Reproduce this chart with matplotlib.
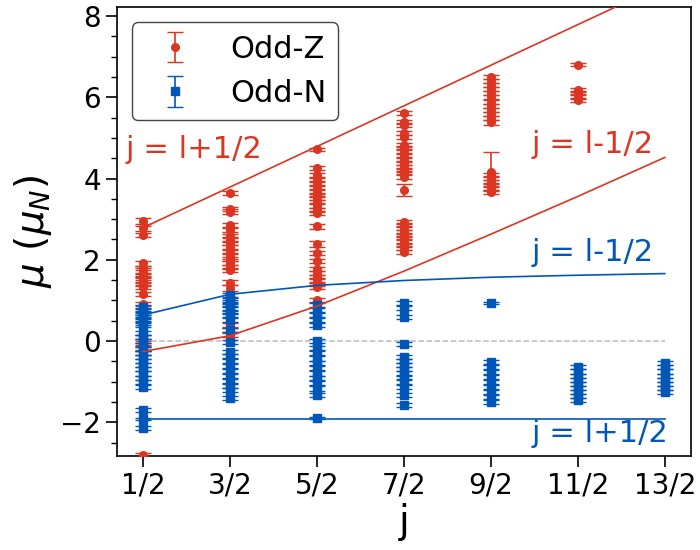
import matplotlib.pyplot as plt
from matplotlib.ticker import MultipleLocator

RED = '#dc3522'
BLUE = '#0057b7'

j_vals = [0.5, 1.5, 2.5, 3.5, 4.5, 5.5, 6.5]
j_labels = ['1/2', '3/2', '5/2', '7/2', '9/2', '11/2', '13/2']

# measured moments, one list per j
odd_z_mu = [
    [2.96, 2.78, 2.62, 1.91, 1.80, 1.72, 1.62, 1.55, 1.48, 1.40, 1.34, 1.15, 0.90,
     0.10, -0.05, -0.17, -0.30, -2.81],
    [3.65, 3.24, 3.18, 2.86, 2.73, 2.59, 2.49, 2.41, 2.31, 2.20, 2.09, 2.01, 1.91,
     1.82, 1.75, 1.44, 1.30, 0.39, 0.27, 0.15],
    [4.72, 4.25, 4.09, 3.97, 3.87, 3.79, 3.68, 3.60, 3.51, 3.43, 3.33, 3.23, 3.15,
     2.82, 2.39, 2.16, 1.98, 1.77, 1.68, 1.58, 1.49, 1.40, 1.34, 1.01],
    [5.61, 5.40, 5.32, 5.12, 5.03, 4.83, 4.75, 4.66, 4.58, 4.46, 4.38, 4.29, 4.21,
     4.13, 4.05, 3.72, 2.94, 2.86, 2.78, 2.69, 2.61, 2.53, 2.45, 2.36, 2.28, 2.20],
    [6.51, 6.41, 6.31, 6.20, 6.10, 6.00, 5.89, 5.79, 5.69, 5.59, 5.49, 5.38,
     4.17, 4.09, 4.01, 3.92, 3.84, 3.76, 3.68],
    [6.80, 6.18, 6.10, 6.02, 5.94],
    [],
]
odd_z_err = [
    [0.08, 0.06, 0.05, 0.06, 0.05, 0.08, 0.05, 0.05, 0.06, 0.05, 0.05, 0.05, 0.05,
     0.05, 0.05, 0.05, 0.05, 0.05],
    [0.05, 0.05, 0.06, 0.05, 0.05, 0.05, 0.06, 0.05, 0.05, 0.05, 0.08, 0.05, 0.05,
     0.05, 0.05, 0.05, 0.08, 0.05, 0.05, 0.05],
    [0.03, 0.05, 0.05, 0.05, 0.06, 0.05, 0.05, 0.05, 0.05, 0.05, 0.06, 0.05, 0.05,
     0.05, 0.08, 0.05, 0.05, 0.05, 0.05, 0.05, 0.05, 0.05, 0.05, 0.05],
    [0.05, 0.05, 0.05, 0.05, 0.05, 0.05, 0.05, 0.06, 0.05, 0.05, 0.05, 0.05, 0.05,
     0.05, 0.05, 0.14, 0.05, 0.05, 0.05, 0.05, 0.05, 0.05, 0.05, 0.05, 0.05, 0.05],
    [0.05, 0.05, 0.05, 0.05, 0.05, 0.05, 0.05, 0.05, 0.05, 0.05, 0.05, 0.05,
     0.48, 0.05, 0.05, 0.05, 0.05, 0.05, 0.05],
    [0.04, 0.05, 0.05, 0.05, 0.05],
    [],
]

odd_n_mu = [
    [0.84, 0.76, 0.70, 0.64, 0.58, 0.52, 0.45, 0.39, 0.20, 0.10, 0.00, -0.10, -0.20,
     -0.30, -0.40, -0.50, -0.60, -0.70, -0.80, -0.90, -1.00, -1.13, -1.70, -1.92, -2.14],
    [1.13, 1.02, 0.95, 0.88, 0.80, 0.72, 0.64, 0.52, 0.27, -0.02, -0.26, -0.38, -0.50,
     -0.62, -0.74, -0.86, -0.98, -1.10, -1.21, -1.40],
    [0.89, 0.76, 0.64, 0.52, 0.39, 0.01, -0.18, -0.30, -0.43, -0.55, -0.67, -0.80,
     -0.92, -1.04, -1.17, -1.33, -1.90],
    [0.93, 0.81, 0.60, -0.07, -0.39, -0.49, -0.59, -0.70, -0.80, -0.89, -1.00,
     -1.13, -1.33, -1.58],
    [0.94, -0.51, -0.63, -0.76, -0.88, -1.00, -1.13, -1.25, -1.37, -1.50],
    [-0.65, -0.75, -0.85, -0.95, -1.05, -1.15, -1.25, -1.35, -1.45],
    [-0.55, -0.65, -0.75, -0.85, -0.95, -1.05, -1.15, -1.25],
]
odd_n_err = [
    [0.05, 0.05, 0.05, 0.05, 0.05, 0.05, 0.05, 0.05, 0.05, 0.05, 0.05, 0.05, 0.05,
     0.05, 0.05, 0.05, 0.05, 0.05, 0.05, 0.05, 0.05, 0.05, 0.05, 0.02, 0.05],
    [0.05, 0.05, 0.05, 0.05, 0.05, 0.05, 0.05, 0.05, 0.05, 0.05, 0.05, 0.05, 0.05,
     0.05, 0.05, 0.05, 0.05, 0.05, 0.05, 0.05],
    [0.05, 0.05, 0.05, 0.05, 0.05, 0.05, 0.05, 0.05, 0.05, 0.05, 0.05, 0.05, 0.05,
     0.05, 0.05, 0.05, 0.02],
    [0.05, 0.05, 0.05, 0.05, 0.05, 0.05, 0.05, 0.05, 0.05, 0.05, 0.05, 0.05, 0.05,
     0.05],
    [0.03, 0.05, 0.05, 0.05, 0.05, 0.05, 0.05, 0.05, 0.05, 0.05],
    [0.05, 0.05, 0.05, 0.05, 0.05, 0.05, 0.05, 0.05, 0.05],
    [0.05, 0.05, 0.05, 0.05, 0.05, 0.05, 0.05, 0.05],
]

# Schmidt values at each j
schmidt_p_plus = [2.79, 3.79, 4.79, 5.79, 6.79, 7.79, 8.79]
schmidt_p_minus = [-0.26, 0.13, 0.86, 1.72, 2.63, 3.56, 4.52]
schmidt_n_plus = [-1.91, -1.91, -1.91, -1.91, -1.91, -1.91, -1.91]
schmidt_n_minus = [0.64, 1.15, 1.37, 1.49, 1.57, 1.62, 1.66]


def flatten(groups):
    xs, ys = [], []
    for j, vals in zip(j_vals, groups):
        xs += [j] * len(vals)
        ys += vals
    return xs, ys


fig = plt.figure(figsize=(7, 5.5), dpi=100)
ax = fig.add_axes([0.167, 0.171, 0.82, 0.816])

zx, zy = flatten(odd_z_mu)
_, ze = flatten(odd_z_err)
nx, ny = flatten(odd_n_mu)
_, ne = flatten(odd_n_err)

ax.errorbar(zx, zy, yerr=ze, fmt='o', color=RED, ecolor=RED, elinewidth=1.2,
            capsize=5.5, markersize=5.5, label='Odd-Z', zorder=3)
ax.errorbar(nx, ny, yerr=ne, fmt='s', color=BLUE, ecolor=BLUE, elinewidth=1.2,
            capsize=5.5, markersize=5.5, label='Odd-N', zorder=3)

ax.plot([j_vals[0], j_vals[-1]], [0, 0], '--', color='#bbbbbb', lw=1.1, zorder=1)
ax.plot(j_vals, schmidt_p_plus, color=RED, lw=1.2, zorder=4)
ax.plot(j_vals, schmidt_p_minus, color=RED, lw=1.2, zorder=4)
ax.plot(j_vals, schmidt_n_plus, color=BLUE, lw=1.2, zorder=4)
ax.plot(j_vals, schmidt_n_minus, color=BLUE, lw=1.2, zorder=4)

ax.text(0.3, 4.72, 'j = l+1/2', color=RED, fontsize=22, ha='left', va='center')
ax.text(6.37, 4.83, 'j = l-1/2', color=RED, fontsize=22, ha='right', va='center')
ax.text(6.37, 2.17, 'j = l-1/2', color=BLUE, fontsize=22, ha='right', va='center')
ax.text(6.54, -2.27, 'j = l+1/2', color=BLUE, fontsize=22, ha='right', va='center')

ax.set_xlim(0.2, 6.8)
ax.set_ylim(-2.83, 8.22)
ax.set_xticks(j_vals)
ax.set_xticklabels(j_labels)
ax.yaxis.set_major_locator(MultipleLocator(2))
ax.yaxis.set_minor_locator(MultipleLocator(0.5))
ax.tick_params(axis='both', which='major', labelsize=20, length=8, width=1.2)
ax.tick_params(axis='y', which='minor', length=4, width=1)
for s in ax.spines.values():
    s.set_linewidth(1.2)

ax.set_xlabel('j', fontsize=28, labelpad=2)
ax.set_ylabel(r'$\mu\ (\mu_N)$', fontsize=28)

ax.legend(loc='upper left', fontsize=22, framealpha=1, edgecolor='#444444')

fig.savefig('out.png', dpi=100)
